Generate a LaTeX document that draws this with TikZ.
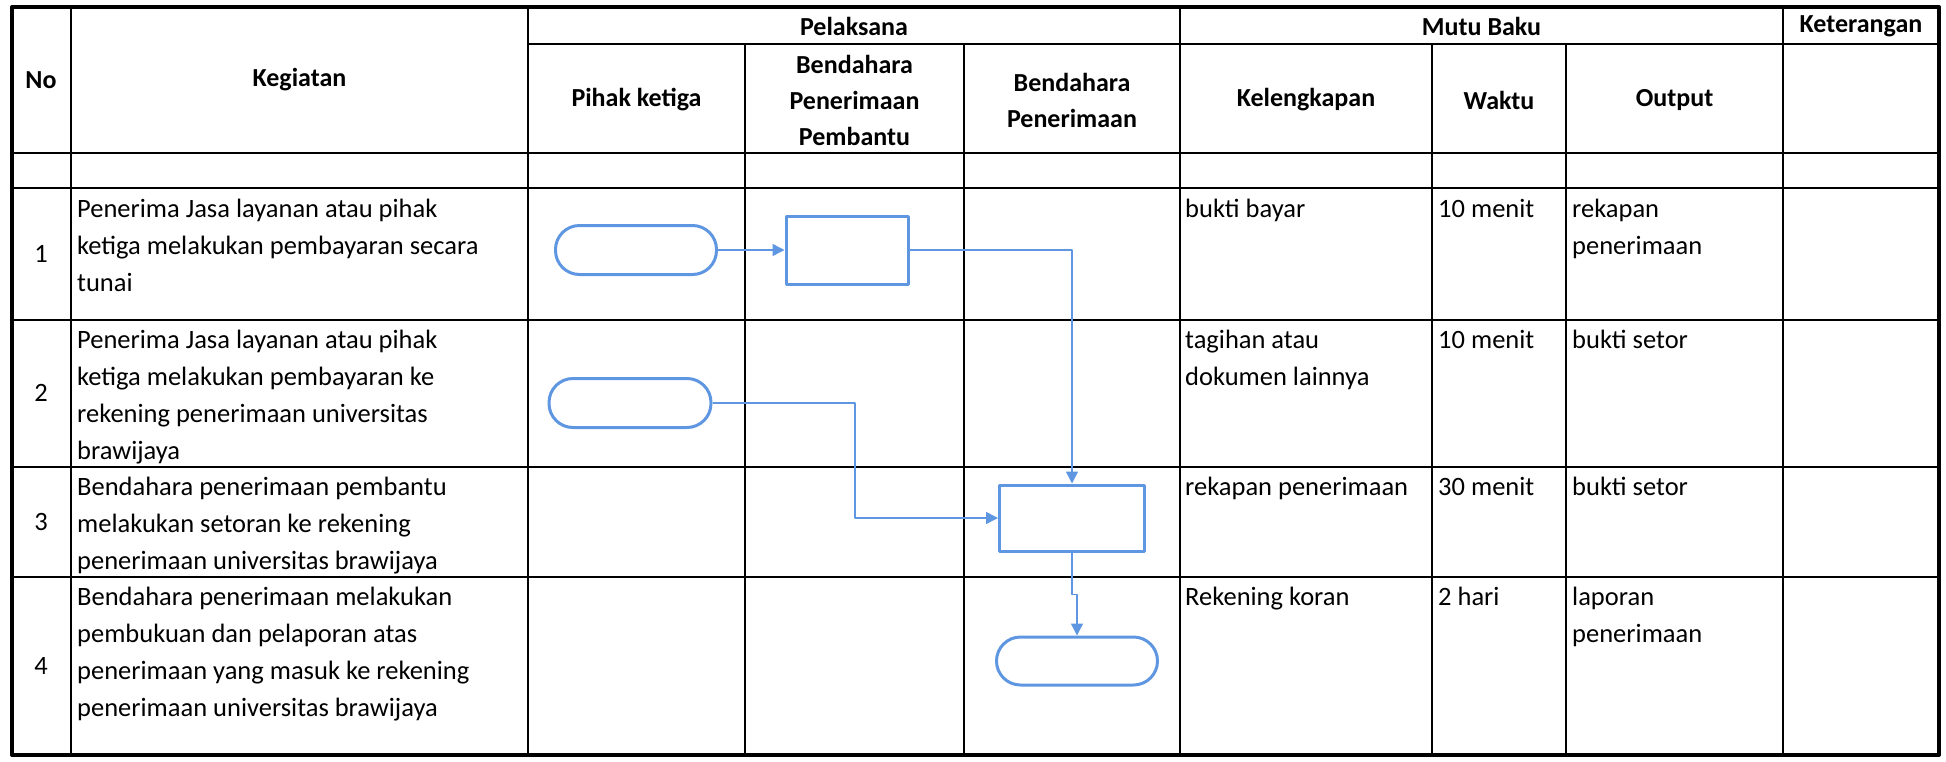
\documentclass[tikz,border=0pt]{standalone}
\usepackage{fontspec}
\setmainfont{Carlito}
\usetikzlibrary{arrows.meta}
\definecolor{flowblue}{RGB}{95,150,225}
\tikzset{
  terminal/.style={draw=flowblue, line width=3pt, rounded corners=24pt, minimum width=161pt, minimum height=49pt},
  process/.style={draw=flowblue, line width=3pt, minimum width=122pt, minimum height=68pt},
  flow/.style={draw=flowblue, line width=1.5pt},
  head/.style={font=\fontsize{26}{36}\selectfont\bfseries, align=center, inner sep=0pt},
  cell/.style={font=\fontsize{26.5}{37}\selectfont, align=left, anchor=base west, inner sep=0pt},
  num/.style={font=\fontsize{26.5}{37}\selectfont, inner sep=0pt}
}
\begin{document}
\begin{tikzpicture}[x=1pt,y=-1pt,>={Triangle[length=12pt,width=12pt]}, line join=round]
\useasboundingbox (0,0) rectangle (1946,761);
% tabel
\foreach \x in {71,528,1180,1783} \draw[line width=2pt] (\x,7)--(\x,755);
\foreach \x in {745,964,1432,1566} \draw[line width=2pt] (\x,44)--(\x,755);
\draw[line width=2pt] (528,44)--(1939,44);
\foreach \y in {153,188,320,467,577} \draw[line width=2pt] (12,\y)--(1939,\y);
\draw[line width=4pt] (12,7) rectangle (1939,755);
% kepala tabel
\node[head] (hno) at (41,80) {No};
\node[head] (hkeg) at (299.5,80) {Kegiatan};
\node[head] (hpel) at (854,26) {Pelaksana};
\node[head] (hmutu) at (1481.5,26) {Mutu Baku};
\node[head] (hket) at (1861,26) {Keterangan};
\node[head] (hpk) at (636.5,100) {Pihak ketiga};
\node[head] (hbpp) at (854.5,100) {Bendahara\\Penerimaan\\Pembantu};
\node[head] (hbp) at (1072,100) {Bendahara\\Penerimaan};
\node[head] (hkel) at (1306,100) {Kelengkapan};
\node[head] (hwkt) at (1499,100) {Waktu};
\node[head] (hout) at (1674.5,100) {Output};
% nomor
\node[num] (n1) at (41,254) {1};
\node[num] (n2) at (41,393) {2};
\node[num] (n3) at (41,522) {3};
\node[num] (n4) at (41,666) {4};
% kegiatan (base = baris terakhir)
\node[cell] (k1) at (77,291) {Penerima Jasa layanan atau pihak\\ketiga melakukan pembayaran secara\\tunai};
\node[cell] (k2) at (77,459) {Penerima Jasa layanan atau pihak\\ketiga melakukan pembayaran ke\\rekening penerimaan universitas\\brawijaya};
\node[cell] (k3) at (77,569) {Bendahara penerimaan pembantu\\melakukan setoran ke rekening\\penerimaan universitas brawijaya};
\node[cell] (k4) at (77,716) {Bendahara penerimaan melakukan\\pembukuan dan pelaporan atas\\penerimaan yang masuk ke rekening\\penerimaan universitas brawijaya};
% mutu baku
\node[cell] (l1) at (1185,217) {bukti bayar};
\node[cell] (l2) at (1185,385) {tagihan atau\\dokumen lainnya};
\node[cell] (l3) at (1185,495) {rekapan penerimaan};
\node[cell] (l4) at (1185,605) {Rekening koran};
\node[cell] (w1) at (1438,217) {10 menit};
\node[cell] (w2) at (1438,348) {10 menit};
\node[cell] (w3) at (1438,495) {30 menit};
\node[cell] (w4) at (1438,605) {2 hari};
\node[cell] (o1) at (1572,254) {rekapan\\penerimaan};
\node[cell] (o2) at (1572,348) {bukti setor};
\node[cell] (o3) at (1572,495) {bukti setor};
\node[cell] (o4) at (1572,642) {laporan\\penerimaan};
% alur
\node[terminal] (t1) at (636,250) {};
\node[process] (p1) at (847,250) {};
\node[terminal, minimum width=162pt] (t2) at (630,403) {};
\node[process, minimum width=145pt, minimum height=66pt] (p2) at (1072,518) {};
\node[terminal, minimum height=48pt] (t3) at (1077,661) {};
\coordinate (k2x) at (855,0);
\draw[flow,->] (t1.east) -- (p1.west);
\draw[flow,->] (p1.east) -| (p2.north);
\draw[flow,->] (t2.east) -- (t2.east -| k2x) |- (p2.west);
\draw[flow,->] (p2.south) -- ++(0,42) -| (t3.north);
\end{tikzpicture}
\end{document}
